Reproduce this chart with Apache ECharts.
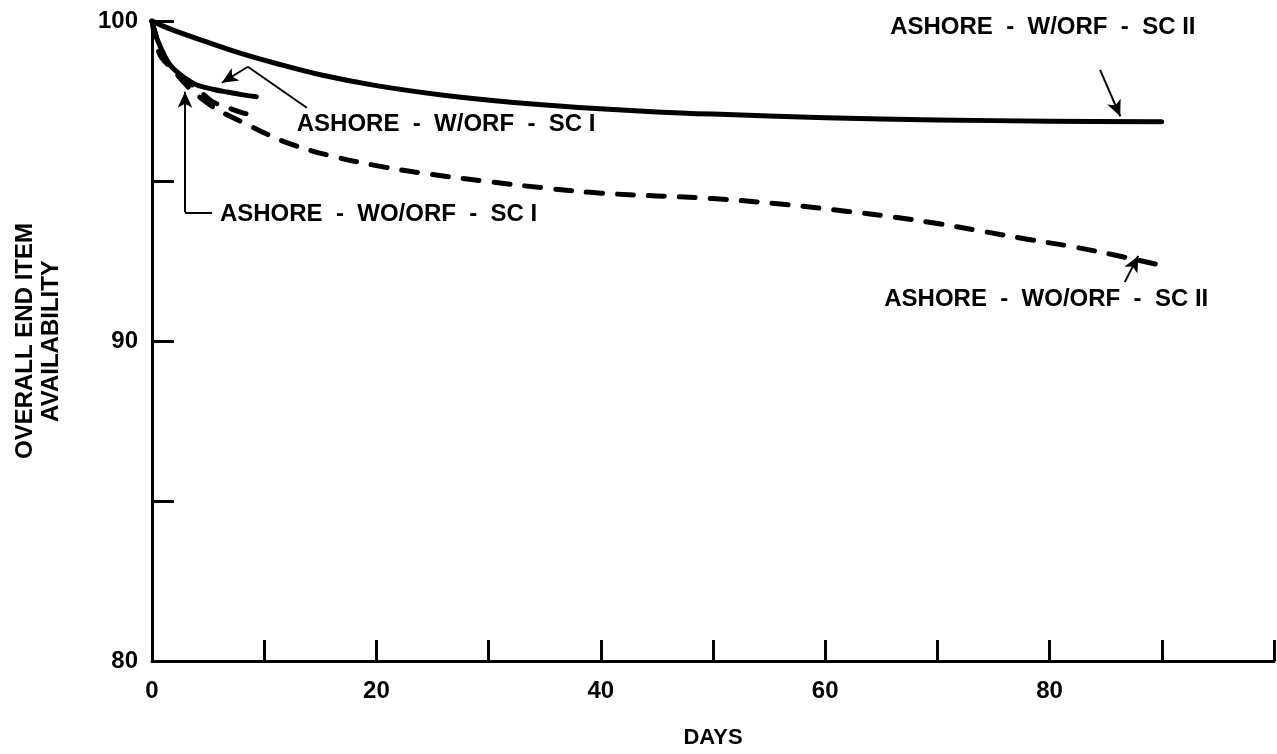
<!DOCTYPE html>
<html>
<head>
<meta charset="utf-8">
<script src="https://cdn.jsdelivr.net/npm/echarts@6/dist/echarts.min.js"></script>
<style>
html,body{margin:0;padding:0;background:#fff;}
#chart{width:1277px;height:754px;}
</style>
</head>
<body>
<div id="chart"></div>
<script>
// ---- Data ----
const seriesNames = ['ASHORE - W/ORF - SC II', 'ASHORE - WO/ORF - SC II', 'ASHORE - W/ORF - SC I', 'ASHORE - WO/ORF - SC I'];
const xLabelValues = [0, 20, 40, 60, 80];
const yLabelValues = [80, 90, 100];

// ASHORE - W/ORF - SC II (solid)
const wOrfSc2 = [[0,100],[1,99.84],[2,99.7],[5,99.33],[8,98.98],[11,98.68],[15,98.32],[20,97.98],[26,97.68],[32,97.46],[38,97.3],[45,97.16],[50,97.09],[60,96.98],[70,96.91],[80,96.87],[90,96.85]];
// ASHORE - WO/ORF - SC II (dashed)
const woOrfSc2 = [[0,100],[0.7,98.95],[1.8,98.5],[3.4,97.88],[5.5,97.3],[8,96.85],[12,96.2],[16,95.78],[20,95.48],[24,95.25],[30,94.98],[35,94.78],[40,94.62],[50,94.45],[56,94.28],[62,94.05],[66,93.88],[70,93.67],[74,93.43],[78,93.18],[82,92.95],[86,92.67],[90,92.36]];
// ASHORE - W/ORF - SC I (solid, short)
const wOrfSc1 = [[0,100],[0.5,99.4],[1.6,98.63],[3,98.2],[4,98.0],[5.5,97.86],[6.7,97.78],[8,97.7],[9.3,97.63]];
// ASHORE - WO/ORF - SC I (dashed, short)
const woOrfSc1 = [[0,100],[0.5,99.4],[1.6,98.6],[3,98.15],[4,97.9],[5.3,97.5],[6.7,97.3],[8.1,97.13],[9.5,97.02]];

// ---- Chart ----
const FONT = '"Liberation Sans", Arial, Helvetica, sans-serif';
const chart = echarts.init(document.getElementById('chart'), null, {renderer: 'canvas'});

const solid = {color: '#000', width: 5, cap: 'round', join: 'round'};
const dashed = {color: '#000', width: 5, type: [16, 15], cap: 'round', join: 'round'};
const leaderStyle = {color: '#000', width: 2, type: 'solid'};

function seg(a, b, arrow) {
  return [{coord: a, symbol: 'none'}, {coord: b, symbol: arrow ? 'arrow' : 'none', symbolSize: [11, 16]}];
}

// annotation anchor points in data space
const ann = {
  sc2Solid: {text: [79.4, 99.81], lines: [[[84.5, 98.47], [86.3, 97.02], true]]},
  sc2Dashed: {text: [79.7, 91.31], lines: [[[86.7, 91.84], [87.9, 92.66], true]]},
  sc1Solid: {text: [12.9, 96.76], lines: [[[13.8, 97.29], [8.54, 98.57], false], [[8.54, 98.57], [6.23, 98.07], true]]},
  sc1Dashed: {text: [6.05, 93.96], lines: [[[5.34, 94.02], [2.94, 94.02], false], [[2.94, 94.02], [2.94, 97.79], true]]}
};

function markLines(key) {
  return {
    silent: true,
    animation: false,
    label: {show: false},
    lineStyle: leaderStyle,
    emphasis: {disabled: true},
    data: ann[key].lines.map(l => seg(l[0], l[1], l[2]))
  };
}

const option = {
  animation: false,
  backgroundColor: '#fff',
  grid: {left: 152, right: 1, top: 21, bottom: 91, containLabel: false},
  xAxis: {
    type: 'value', min: 0, max: 100, interval: 10,
    name: 'DAYS', nameLocation: 'middle', nameGap: 66,
    nameTextStyle: {fontFamily: FONT, fontWeight: 'bold', fontSize: 22, color: '#000'},
    axisLine: {show: true, lineStyle: {color: '#000', width: 3}},
    axisTick: {show: true, inside: true, length: 21, lineStyle: {color: '#000', width: 3}},
    axisLabel: {
      margin: 18, fontFamily: FONT, fontWeight: 'bold', fontSize: 24, color: '#000',
      formatter: v => xLabelValues.includes(v) ? String(v) : ''
    },
    splitLine: {show: false}
  },
  yAxis: {
    type: 'value', min: 80, max: 100, interval: 5,
    name: 'OVERALL END ITEM\nAVAILABILITY', nameLocation: 'middle', nameGap: 88,
    nameTextStyle: {fontFamily: FONT, fontWeight: 'bold', fontSize: 24, color: '#000', lineHeight: 26},
    axisLine: {show: true, lineStyle: {color: '#000', width: 3}},
    axisTick: {show: true, inside: true, length: 22, lineStyle: {color: '#000', width: 3}},
    axisLabel: {
      margin: 14, fontFamily: FONT, fontWeight: 'bold', fontSize: 24, color: '#000',
      formatter: v => yLabelValues.includes(v) ? String(v) : ''
    },
    splitLine: {show: false}
  },
  series: [
    {name: seriesNames[0], type: 'line', data: wOrfSc2, smooth: 0.35, symbol: 'none', lineStyle: solid, markLine: markLines('sc2Solid'), z: 3},
    {name: seriesNames[1], type: 'line', data: woOrfSc2, smooth: 0.35, symbol: 'none', lineStyle: dashed, markLine: markLines('sc2Dashed'), z: 3},
    {name: seriesNames[2], type: 'line', data: wOrfSc1, smooth: 0.35, symbol: 'none', lineStyle: solid, markLine: markLines('sc1Solid'), z: 3},
    {name: seriesNames[3], type: 'line', data: woOrfSc1, smooth: 0.35, symbol: 'none', lineStyle: dashed, markLine: markLines('sc1Dashed'), z: 3}
  ]
};
chart.setOption(option);

function labelText(name) { return name.replace(/ - /g, '  -  '); }
function textEl(key, name, align) {
  const p = chart.convertToPixel({gridIndex: 0}, ann[key].text);
  return {
    type: 'text', x: p[0], y: p[1], silent: true, z: 10,
    style: {
      text: labelText(name), fill: '#000',
      font: 'bold 24px ' + FONT,
      align: align, verticalAlign: 'middle',
      textAlign: align, textVerticalAlign: 'middle'
    }
  };
}
chart.setOption({
  graphic: [
    textEl('sc2Solid', seriesNames[0], 'center'),
    textEl('sc2Dashed', seriesNames[1], 'center'),
    textEl('sc1Solid', seriesNames[2], 'left'),
    textEl('sc1Dashed', seriesNames[3], 'left')
  ]
});
</script>
</body>
</html>
